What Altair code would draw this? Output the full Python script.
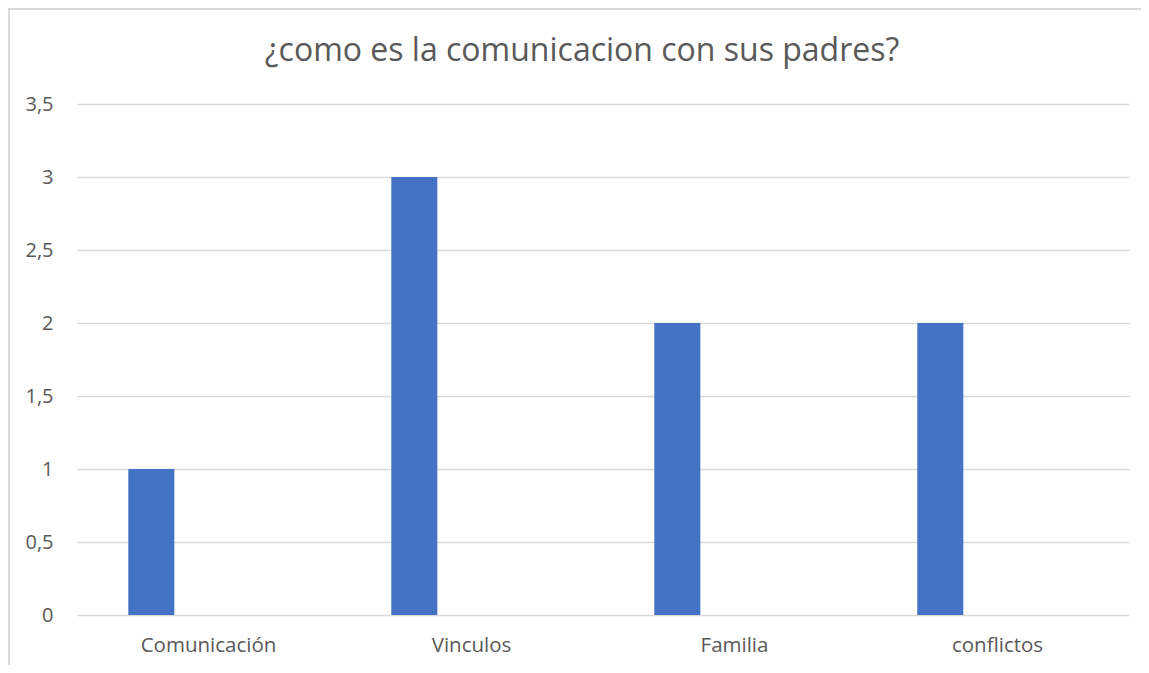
import altair as alt
import pandas as pd

categorias = ["Comunicación", "Vinculos", "Familia", "conflictos"]
valores = [1, 3, 2, 2]
serie = ["Serie1", "Serie1", "Serie1", "Serie1"]
series_dominio = ["Serie1", "Serie2", "Serie3"]
y_ticks = [0, 0.5, 1, 1.5, 2, 2.5, 3, 3.5]
titulo = "¿como es la comunicacion con sus padres?"

df = pd.DataFrame({"categoria": categorias, "valor": valores, "serie": serie})

FONT = "Open Sans"
GRAY = "#595959"

bars = alt.Chart(df).mark_bar(color="#4472C4").encode(
    x=alt.X("categoria:N", sort=categorias,
            scale=alt.Scale(paddingInner=0, paddingOuter=0),
            axis=alt.Axis(title=None, labelAngle=0, ticks=False, domain=False,
                          labelFont=FONT, labelFontSize=20.5, labelColor=GRAY,
                          labelPadding=20, grid=False)),
    xOffset=alt.XOffset("serie:N", scale=alt.Scale(domain=series_dominio,
                                                   paddingInner=0.195, paddingOuter=0.897)),
    y=alt.Y("valor:Q", scale=alt.Scale(domain=[0, 3.5], nice=False),
            axis=alt.Axis(title=None, values=y_ticks, ticks=False, domain=False,
                          grid=True, gridColor="#d9d9d9", gridWidth=1.3,
                          labelFont=FONT, labelFontSize=20, labelColor=GRAY,
                          labelPadding=24,
                          labelExpr="replace(format(datum.value, '.1~f'), '.', ',')")),
)

border = alt.Chart(df).mark_rect(fill=None, stroke="#d9d9d9", strokeWidth=2, clip=False).encode(
    x=alt.value(-68), x2=alt.value(1200), y=alt.value(-95), y2=alt.value(700)
)

chart = alt.layer(border, bars).properties(
    width=1052, height=511,
    title=alt.TitleParams(titulo, font=FONT, fontSize=32, fontWeight="normal",
                          color=GRAY, anchor="middle", dx=-21, dy=96, offset=36),
    autosize=alt.AutoSizeParams(type="none"),
    padding={"left": 69, "top": 96, "right": 12, "bottom": 50},
).configure_view(stroke=None)

chart.save("out.html", embed_options={"renderer": "svg", "actions": False})
